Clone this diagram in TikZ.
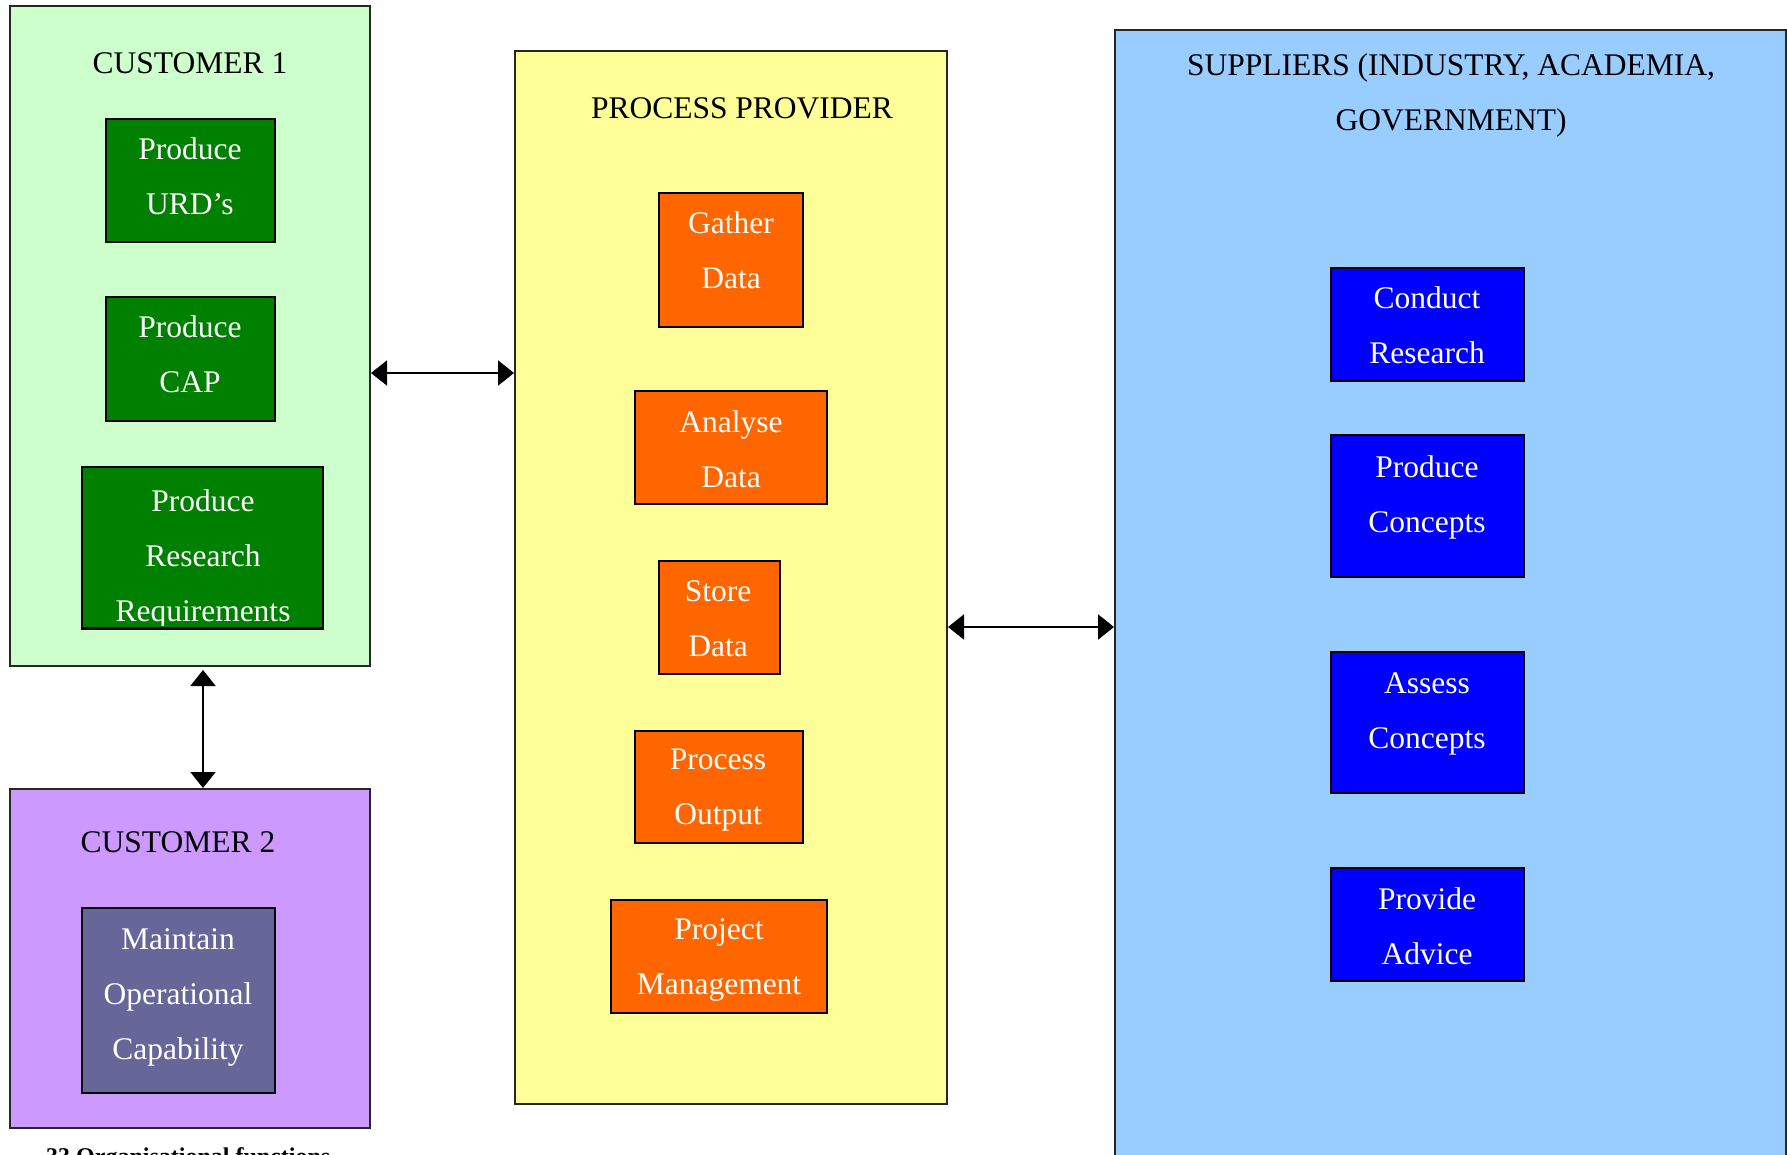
\documentclass[tikz,border=0pt]{standalone}
\usepackage{fontspec}
\setmainfont{Liberation Serif}
\usetikzlibrary{arrows.meta,calc}

\definecolor{custonefill}{HTML}{CCFFCC}
\definecolor{custtwofill}{HTML}{CC99FF}
\definecolor{providerfill}{HTML}{FFFF99}
\definecolor{supplierfill}{HTML}{99CCFF}
\definecolor{greentask}{HTML}{008000}
\definecolor{slatetask}{HTML}{666699}
\definecolor{orangetask}{HTML}{FF6600}
\definecolor{bluetask}{HTML}{0000FF}

\begin{document}
\begin{tikzpicture}[x=1pt,y=-1pt,
  every node/.style={font=\fontsize{31.5}{55}\selectfont, inner sep=0pt},
  panel/.style={draw=black!85, line width=2pt},
  task/.style={draw=black, line width=2pt},
  tasktext/.style={text=white, align=center},
  heading/.style={text=black, align=center},
  link/.style={line width=2pt,
    {Triangle[length=16pt,width=25pt]}-{Triangle[length=16pt,width=25pt]}}]

\useasboundingbox (0,0) rectangle (1787,1154);
\clip (0,0) rectangle (1787,1154);

% ---- organisational panels ----
\node[panel, fill=custonefill, minimum width=360pt, minimum height=660pt] (cust1) at (190,336) {};
\node[panel, fill=custtwofill, minimum width=360pt, minimum height=339pt] (cust2) at (190,958.5) {};
\node[panel, fill=providerfill, minimum width=432pt, minimum height=1053pt] (prov) at (731,577.5) {};
\node[panel, fill=supplierfill, minimum width=671pt, minimum height=1170pt] (supp) at (1450.5,615) {};

% ---- panel headings ----
\node[heading] (cust1title) at (190,63) {CUSTOMER 1};
\node[heading] (cust2title) at (178,842) {CUSTOMER 2};
\node[heading] (provtitle) at (742,108) {PROCESS PROVIDER};
\node[heading] (supptitle) at (1451,95) {SUPPLIERS (INDUSTRY, ACADEMIA,\\GOVERNMENT)};

% ---- customer 1 tasks ----
\node[task, fill=greentask, minimum width=169pt, minimum height=123pt] (urd) at (190.5,180.5) {};
\node[tasktext] (urdtext) at (190,176.5) {Produce\\URD’s};
\node[task, fill=greentask, minimum width=169pt, minimum height=124pt] (cap) at (190.5,359) {};
\node[tasktext] (captext) at (190,354.5) {Produce\\CAP};
\node[task, fill=greentask, minimum width=241pt, minimum height=161pt] (prr) at (202.5,547.5) {};
% the last line runs into the lower border of its box
\begin{scope}
  \clip (82,467) rectangle (323,625);
  \node[tasktext] (prrtext) at (203,558.5) {Produce\\Research\\Requirements};
\end{scope}
\draw[line width=2pt] (prr.south west) -- (prr.south east);

% ---- customer 2 task ----
\node[task, fill=slatetask, minimum width=193pt, minimum height=185pt] (moc) at (178.5,1000.5) {};
\node[tasktext] (moctext) at (178,997.5) {Maintain\\Operational\\Capability};

% ---- process provider tasks ----
\node[task, fill=orangetask, minimum width=144pt, minimum height=134pt] (gather) at (731,260) {};
\node[tasktext] (gathertext) at (731,250) {Gather\\Data};
\node[task, fill=orangetask, minimum width=192pt, minimum height=113pt] (analyse) at (731,447.5) {};
\node[tasktext] (analysetext) at (731,449) {Analyse\\Data};
\node[task, fill=orangetask, minimum width=121pt, minimum height=113pt] (store) at (719.5,617.5) {};
\node[tasktext] (storetext) at (718,619) {Store\\Data};
\node[task, fill=orangetask, minimum width=168pt, minimum height=112pt] (output) at (719,787) {};
\node[tasktext] (outputtext) at (718,790) {Process\\Output};
\node[task, fill=orangetask, minimum width=216pt, minimum height=113pt] (pm) at (719,956.5) {};
\node[tasktext] (pmtext) at (719,960) {Project\\Management};

% ---- supplier tasks ----
\node[task, fill=bluetask, minimum width=193pt, minimum height=113pt] (research) at (1427.5,324.5) {};
\node[tasktext] (researchtext) at (1427,325.5) {Conduct\\Research};
\node[task, fill=bluetask, minimum width=193pt, minimum height=142pt] (produce) at (1427.5,506) {};
\node[tasktext] (producetext) at (1427,497) {Produce\\Concepts};
\node[task, fill=bluetask, minimum width=193pt, minimum height=141pt] (assess) at (1427.5,722.5) {};
\node[tasktext] (assesstext) at (1427,713.5) {Assess\\Concepts};
\node[task, fill=bluetask, minimum width=193pt, minimum height=113pt] (advice) at (1427.5,924.5) {};
\node[tasktext] (advicetext) at (1427,926.5) {Provide\\Advice};

% ---- interfaces between organisations ----
\draw[link] (cust1.east |- 0,373) -- (prov.west |- 0,373);
\draw[link] (prov.east |- 0,627) -- (supp.west |- 0,627);
\draw[link] ([yshift=-3pt]cust1.south -| 203,0) -- (cust2.north -| 203,0);

% ---- caption ----
\node[anchor=north west, font=\fontsize{24}{28}\selectfont\bfseries] (caption) at (46,1147) {33 Organisational functions};

\end{tikzpicture}
\end{document}
